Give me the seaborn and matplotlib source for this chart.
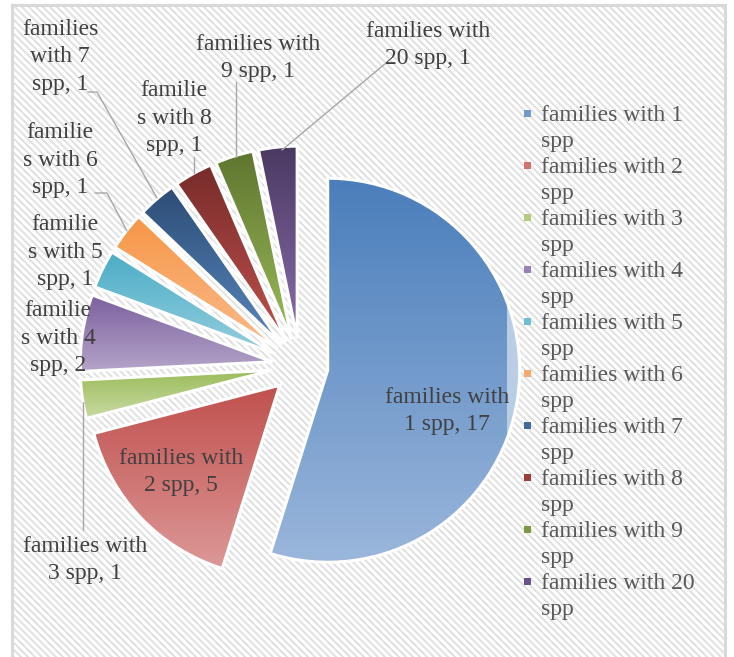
import numpy as np
import matplotlib
matplotlib.use("Agg")
import matplotlib.pyplot as plt
from matplotlib.colors import to_rgb
from matplotlib.patches import Rectangle
import seaborn as sns

# ---- data -------------------------------------------------------------
categories = [
    "families with 1 spp", "families with 2 spp", "families with 3 spp",
    "families with 4 spp", "families with 5 spp", "families with 6 spp",
    "families with 7 spp", "families with 8 spp", "families with 9 spp",
    "families with 20 spp",
]
counts = [17, 5, 1, 2, 1, 1, 1, 1, 1, 1]

# category text as wrapped inside each data label
label_wraps = [
    "families with\n1 spp", "families with\n2 spp", "families with\n3 spp",
    "familie\ns with 4\nspp", "familie\ns with 5\nspp", "familie\ns with 6\nspp",
    "families\nwith 7\nspp", "familie\ns with 8\nspp", "families with\n9 spp",
    "families with\n20 spp",
]

# gradient fill of each slice: top shade -> bottom shade
top_colors = ["#4a7ebb", "#c0504d", "#9bbb59", "#7b5f9e", "#4bacc6",
              "#f79646", "#2c4d75", "#772c2a", "#5f7530", "#4a3962"]
bottom_colors = ["#9ab6db", "#dc9897", "#c8daa2", "#b4a4c9", "#95cfde",
                 "#fabb8c", "#5a87bf", "#c0504d", "#9bbb59", "#8a6eab"]

# ---- layout (pixels) --------------------------------------------------
W, H = 734, 657
CX, CY, R = 300, 366, 192
EXPLODE_PX = 28

label_pos = [(447, 411), (181, 472), (85, 560), (58, 338), (65, 252),
             (60, 160), (60, 57), (174, 118), (258, 58), (428, 45)]
leaders = {
    2: [(83, 402), (83, 530)],
    5: [(95, 193), (107, 193), (127, 231)],
    6: [(88, 92), (97, 92), (157, 198)],
    7: [(194, 157), (194, 173)],
    8: [(236, 82), (236, 157)],
    9: [(386, 63), (282, 150)],
}

sns.set_theme(style="white")
plt.rcParams["font.family"] = ["Liberation Serif", "DejaVu Serif"]

fig = plt.figure(figsize=(W / 100, H / 100), dpi=100)

# background: light diagonal stripes inside a grey frame
bg = fig.add_axes([0, 0, 1, 1])
bg.axis("off")
yy, xx = np.mgrid[0:H, 0:W]
img = np.ones((H, W, 3))
stripe = ((xx - yy) % 7) < 3
img[stripe] = to_rgb("#e3e3e3")
inside = (xx >= 13) & (xx <= 724) & (yy >= 6)
img[~inside] = 1.0
bg.imshow(img, extent=(0, W, H, 0), interpolation="nearest", aspect="auto")
bg.plot([12, 12, 725, 725], [H + 5, 5, 5, H + 5], color="#d9d9d9", lw=2.2,
        solid_joinstyle="miter")
bg.set_xlim(0, W)
bg.set_ylim(H, 0)

ax = fig.add_axes([0, 0, 1, 1])
ax.set_facecolor("none")
ax.axis("off")


def P(x, y):
    return (x - CX) / R, (CY - y) / R


wedges, _ = ax.pie(
    counts, startangle=90, counterclock=False,
    explode=[EXPLODE_PX / R] * len(counts), radius=1, center=(0, 0),
    colors=top_colors,
    wedgeprops=dict(edgecolor="white", linewidth=2.2),
)

t = np.linspace(0, 1, 256)[:, None, None]
for w, ct, cb in zip(wedges, top_colors, bottom_colors):
    bb = w.get_path().get_extents()
    grad = np.array(to_rgb(cb)) * (1 - t) + np.array(to_rgb(ct)) * t
    im = ax.imshow(grad, extent=(bb.x0, bb.x1, bb.y0, bb.y1), origin="lower",
                   aspect="auto", interpolation="bilinear", zorder=0.4)
    im.set_clip_path(w)
    w.set_facecolor("none")
    w.set_zorder(1)

# lighter band along the right rim of the large slice
bb0 = wedges[0].get_path().get_extents()
band = Rectangle((bb0.x1 - 13 / R, bb0.y0), 14 / R, bb0.height,
                 facecolor="#b9cde5", edgecolor="none", zorder=0.6)
ax.add_patch(band)
band.set_clip_path(wedges[0])

# data labels
for wrap, n, (lx, ly) in zip(label_wraps, counts, label_pos):
    ax.text(*P(lx, ly), f"{wrap}, {n}", ha="center", va="center",
            multialignment="center", fontsize=17, color="#404040",
            linespacing=1.4, zorder=5)

for pts in leaders.values():
    xs, ys = zip(*[P(x, y) for x, y in pts])
    ax.plot(xs, ys, color="#a6a6a6", lw=1.0, zorder=4)

# legend
for i, (cat, ct, cb) in enumerate(zip(categories, top_colors, bottom_colors)):
    y0 = 113 + 52 * i
    mid = 0.5 * (np.array(to_rgb(ct)) + np.array(to_rgb(cb)))
    ax.add_patch(Rectangle(P(524, y0 + 4), 7 / R, 7 / R, facecolor=mid,
                           edgecolor="none", zorder=5))
    head, tail = cat.rsplit(" ", 1)
    ax.text(*P(541, y0 - 8), f"{head}\n{tail}", ha="left", va="top",
            fontsize=17, color="#595959", linespacing=1.31, zorder=5)

ax.set_xlim(-CX / R, (W - CX) / R)
ax.set_ylim(-(H - CY) / R, CY / R)
ax.set_aspect("auto")

fig.savefig("out.png", dpi=100)
